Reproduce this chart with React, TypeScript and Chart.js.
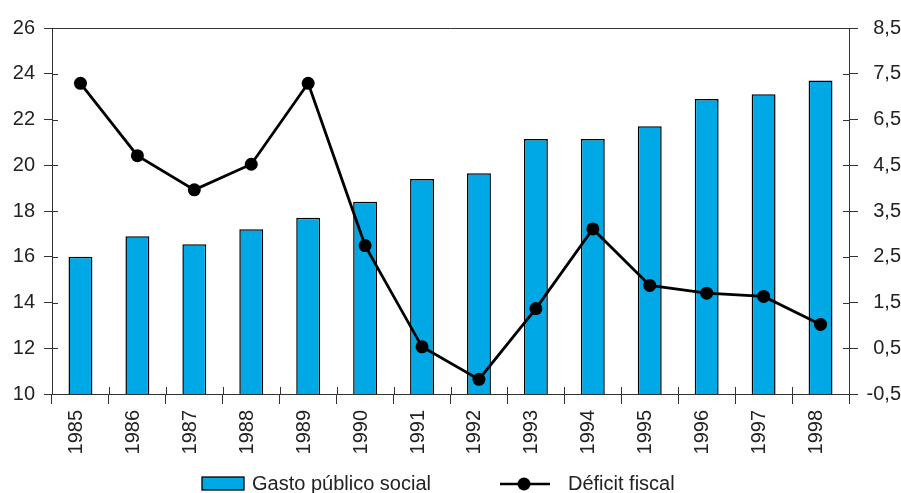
import { useEffect, useRef } from "react";
import { Chart, registerables } from "chart.js";

Chart.register(...registerables);

const YEARS = ["1985", "1986", "1987", "1988", "1989", "1990", "1991", "1992", "1993", "1994", "1995", "1996", "1997", "1998"];
const GASTO = [16.0, 16.9, 16.55, 17.2, 17.7, 18.4, 19.4, 19.65, 21.15, 21.15, 21.7, 22.9, 23.1, 23.7];
const DEFICIT = [7.14, 5.36, 4.52, 5.15, 7.14, 3.15, 0.66, -0.14, 1.6, 3.56, 2.17, 1.98, 1.9, 1.21];
const RIGHT_TICK_LABELS = ["-0,5", "0,5", "1,5", "2,5", "3,5", "4,5", "6,5", "7,5", "8,5"];

const FONT = "'Liberation Sans', Arial, Helvetica, sans-serif";
const AXIS = "#333333";
const TEXT = "#222222";
const BLUE = "#00A8E6";

export default function App() {
  const ref = useRef<HTMLCanvasElement>(null);

  useEffect(() => {
    const frame = {
      id: "frame",
      afterDraw(chart: any) {
        const ctx = chart.ctx as CanvasRenderingContext2D;
        const a = chart.chartArea;
        const sx = chart.scales.x;
        const sy = chart.scales.y;
        const sy1 = chart.scales.y1;
        ctx.save();
        ctx.strokeStyle = AXIS;
        ctx.lineWidth = 1;
        // top border
        ctx.beginPath();
        ctx.moveTo(a.left, a.top + 0.5);
        ctx.lineTo(a.right, a.top + 0.5);
        ctx.stroke();
        // inner ticks left
        ctx.beginPath();
        for (let i = 0; i < sy.ticks.length; i++) {
          const y = Math.round(sy.getPixelForTick(i)) + 0.5;
          ctx.moveTo(a.left, y);
          ctx.lineTo(a.left + 6, y);
        }
        for (let i = 0; i < sy1.ticks.length; i++) {
          const y = Math.round(sy1.getPixelForTick(i)) + 0.5;
          ctx.moveTo(a.right - 6, y);
          ctx.lineTo(a.right, y);
        }
        for (let i = 1; i < sx.ticks.length; i++) {
          const x = Math.round((sx.getPixelForTick(i - 1) + sx.getPixelForTick(i)) / 2) + 0.5;
          ctx.moveTo(x, a.bottom - 7);
          ctx.lineTo(x, a.bottom);
        }
        ctx.stroke();

        // legend
        const ds = chart.data.datasets;
        ctx.font = `20px ${FONT}`;
        ctx.fillStyle = TEXT;
        ctx.textBaseline = "alphabetic";
        ctx.textAlign = "left";
        ctx.fillStyle = BLUE;
        ctx.fillRect(202, 477, 42, 13);
        ctx.strokeStyle = "#000";
        ctx.lineWidth = 1.3;
        ctx.strokeRect(202, 477, 42, 13);
        ctx.fillStyle = TEXT;
        ctx.fillText(ds[0].label, 252, 490);

        ctx.strokeStyle = "#000";
        ctx.lineWidth = 2.5;
        ctx.beginPath();
        ctx.moveTo(500, 484);
        ctx.lineTo(550, 484);
        ctx.stroke();
        ctx.fillStyle = "#000";
        ctx.beginPath();
        ctx.arc(524, 484, 6.5, 0, Math.PI * 2);
        ctx.fill();
        ctx.fillStyle = TEXT;
        ctx.fillText(ds[1].label, 568, 490);
        ctx.restore();
      },
    };

    const chart = new Chart(ref.current as HTMLCanvasElement, {
      type: "bar",
      data: {
        labels: YEARS,
        datasets: [
          {
            type: "bar",
            label: "Gasto público social",
            data: GASTO,
            yAxisID: "y",
            backgroundColor: BLUE,
            borderColor: "#000000",
            borderWidth: 1.5,
            barPercentage: 0.42,
            categoryPercentage: 1,
            order: 2,
          },
          {
            type: "line",
            label: "Déficit fiscal",
            data: DEFICIT,
            yAxisID: "y1",
            borderColor: "#000000",
            borderWidth: 2.8,
            pointRadius: 6.5,
            pointBackgroundColor: "#000000",
            pointBorderColor: "#000000",
            pointBorderWidth: 0,
            tension: 0,
            order: 1,
          } as any,
        ],
      },
      options: {
        animation: false,
        responsive: false,
        devicePixelRatio: 1,
        layout: { padding: { top: 28, left: 0, right: 0, bottom: 0 } },
        plugins: {
          legend: { display: false },
          tooltip: { enabled: false },
        },
        scales: {
          x: {
            offset: true,
            grid: { display: true, drawOnChartArea: false, drawTicks: true, tickLength: 10, color: AXIS, offset: true },
            border: { display: true, color: AXIS, width: 1 },
            ticks: {
              font: { family: FONT, size: 20 },
              color: TEXT,
              maxRotation: 90,
              minRotation: 90,
              padding: 6,
              labelOffset: -4,
              autoSkip: false,
            },
            afterFit(scale: any) {
              scale.height = 99;
            },
          },
          y: {
            position: "left",
            min: 10,
            max: 26,
            grid: { drawOnChartArea: false, drawTicks: true, tickLength: 8, color: AXIS },
            border: { display: true, color: AXIS, width: 1 },
            ticks: {
              stepSize: 2,
              font: { family: FONT, size: 20 },
              color: TEXT,
              padding: 9,
            },
            afterFit(scale: any) {
              scale.width = 52;
            },
          },
          y1: {
            position: "right",
            min: -0.5,
            max: 8.5,
            grid: { drawOnChartArea: false, drawTicks: true, tickLength: 9, color: AXIS },
            border: { display: true, color: AXIS, width: 1 },
            ticks: {
              stepSize: 1.125,
              font: { family: FONT, size: 20 },
              color: TEXT,
              padding: 6,
              crossAlign: "far",
              callback: (_v: any, i: number) => RIGHT_TICK_LABELS[i],
            },
            afterFit(scale: any) {
              scale.width = 52;
            },
          },
        },
      },
      plugins: [frame],
    } as any);

    return () => chart.destroy();
  }, []);

  return (
    <div style={{ position: "fixed", left: 0, top: 0, width: 901, height: 493, background: "#fff" }}>
      <canvas ref={ref} width={901} height={493} style={{ display: "block", width: 901, height: 493 }} />
    </div>
  );
}
